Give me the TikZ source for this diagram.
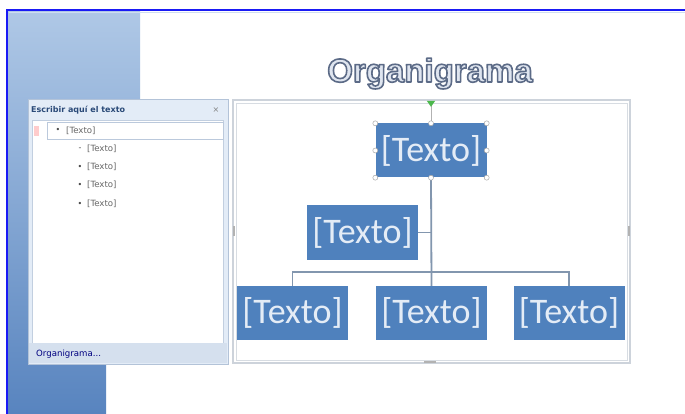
\documentclass[tikz,border=0pt]{standalone}
\usepackage{fontspec}
\setmainfont{Carlito}
\newfontfamily\titlefont{Liberation Sans}
\newfontfamily\uifont{DejaVu Sans}
\usetikzlibrary{shapes.geometric}
\definecolor{officeblue}{HTML}{4F81BD}
\definecolor{boxtext}{HTML}{E4ECF6}
\definecolor{connc}{HTML}{8296AE}
\definecolor{slideblueA}{HTML}{AFC8E6}
\definecolor{slideblueB}{HTML}{5884BF}
\definecolor{panefill}{HTML}{E3ECF7}
\definecolor{paneedge}{HTML}{B3C3D8}
\definecolor{panetitle}{HTML}{2A4A78}
\definecolor{framec}{HTML}{CDD3DB}
\definecolor{titlefill}{HTML}{DFE5EF}
\definecolor{borderblue}{HTML}{1A1AF5}
\newcommand{\outlinetext}[1]{\special{pdf:literal direct 2 Tr 1.6 w 1 j 0.36 0.42 0.53 RG}#1\special{pdf:literal direct 0 Tr}}
\tikzset{
  orgbox/.style={fill=officeblue, text=boxtext, font=\fontsize{36}{36}\selectfont,
    minimum width=111pt, minimum height=54pt, inner sep=0pt, draw=none},
  conn/.style={draw=connc, line width=1.8pt},
  handle/.style={circle, fill=white, draw=gray!70, line width=0.5pt, minimum size=5pt, inner sep=0pt},
  panetxt/.style={font=\uifont\fontsize{8.6}{9}\selectfont, text=black!60, inner sep=0pt, anchor=west},
  bulletc/.style={font=\uifont\fontsize{8}{8}\selectfont, text=black!70, inner sep=0pt},
  ttl/.style={font=\titlefont\bfseries\fontsize{33}{33}\selectfont, inner sep=0pt, anchor=base}
}
\begin{document}
\begin{tikzpicture}[x=1pt,y=-1pt]
\useasboundingbox (0,0) rectangle (685,414);
\fill[white] (0,0) rectangle (685,414);
% blue slide decoration
\shade[top color=slideblueA, bottom color=slideblueB]
  (8,11) -- (140,11) -- (140,200) -- (106,300) -- (106,414) -- (8,414) -- cycle;
% blue border
\draw[borderblue, line width=2pt] (7,414) -- (7,10) -- (685,10);
\draw[slideblueA!60, line width=0.8pt] (9,12.5) -- (685,12.5);

% title
\node[ttl, text=titlefill] (title) at (430, 82) {\outlinetext{Organigrama}};

% task pane
\draw[paneedge, fill=panefill, line width=0.8pt] (28,99) rectangle (228,364);
\node[font=\uifont\bfseries\fontsize{8}{8}\selectfont, text=panetitle, anchor=west, inner sep=0pt] (panetitle) at (31,110.5) {Escribir aquí el texto};
\node[font=\uifont\fontsize{8}{8}\selectfont, text=gray, inner sep=0pt] (close) at (216,110.5) {×};
\draw[paneedge!80, fill=white] (32,120) rectangle (223,343);
\draw[paneedge!90, fill=white, line width=0.5pt] (47,122) rectangle (223,139);
\fill[red!20] (34,126) rectangle (39,136);
\node[bulletc] (b0) at (58,130.5) {•};
\node[panetxt] (t0) at (66,130.5) {[Texto]};
\node[bulletc] (b1) at (80,149) {-};
\node[panetxt] (t1) at (87,149) {[Texto]};
\node[bulletc] (b2) at (80,167) {•};
\node[panetxt] (t2) at (87,167) {[Texto]};
\node[bulletc] (b3) at (80,185) {•};
\node[panetxt] (t3) at (87,185) {[Texto]};
\node[bulletc] (b4) at (80,204) {•};
\node[panetxt] (t4) at (87,204) {[Texto]};
\fill[panefill!70!paneedge] (29,343) rectangle (227,363);
\node[font=\uifont\fontsize{8.6}{9}\selectfont, text=blue!50!black, anchor=west, inner sep=0pt] (link) at (36,354) {Organigrama...};

% SmartArt frame
\draw[framec, line width=1.2pt] (233,100) rectangle (630,363);
\draw[framec!80, line width=0.5pt] (236,103) rectangle (627,360);
\draw[gray!60, line width=1.5pt] (234,226) -- (234,236);
\draw[gray!60, line width=1.5pt] (629,226) -- (629,236);
\draw[gray!60, line width=1.5pt] (424,362) -- (436,362);

% org chart boxes
\node[orgbox] (top) at (431,150.5) {[Texto]};
\node[orgbox] (asst) at (362.5,232.5) {[Texto]};
\node[orgbox] (left) at (292.5,313) {[Texto]};
\node[orgbox] (mid) at (431.5,313) {[Texto]};
\node[orgbox] (right) at (569,313) {[Texto]};

% connectors
\draw[conn] (top.south) -- (mid.north);
\draw[conn] (left.north) -- ++(0,-14) -| (right.north);
\draw[conn] (asst.east) -- (asst.east -| top.south);

% selection handles on the top box
\coordinate (rot) at (431,103);
\draw[gray!60, line width=0.5pt] (rot) -- (top.north);
\node[isosceles triangle, shape border rotate=-90, fill=green!60!black!70, minimum size=6pt, inner sep=0pt, isosceles triangle apex angle=70] (rothandle) at (rot) {};
\foreach \a in {north, south, east, west, north east, north west, south east, south west}
  \node[handle] at (top.\a) {};
\end{tikzpicture}
\end{document}
